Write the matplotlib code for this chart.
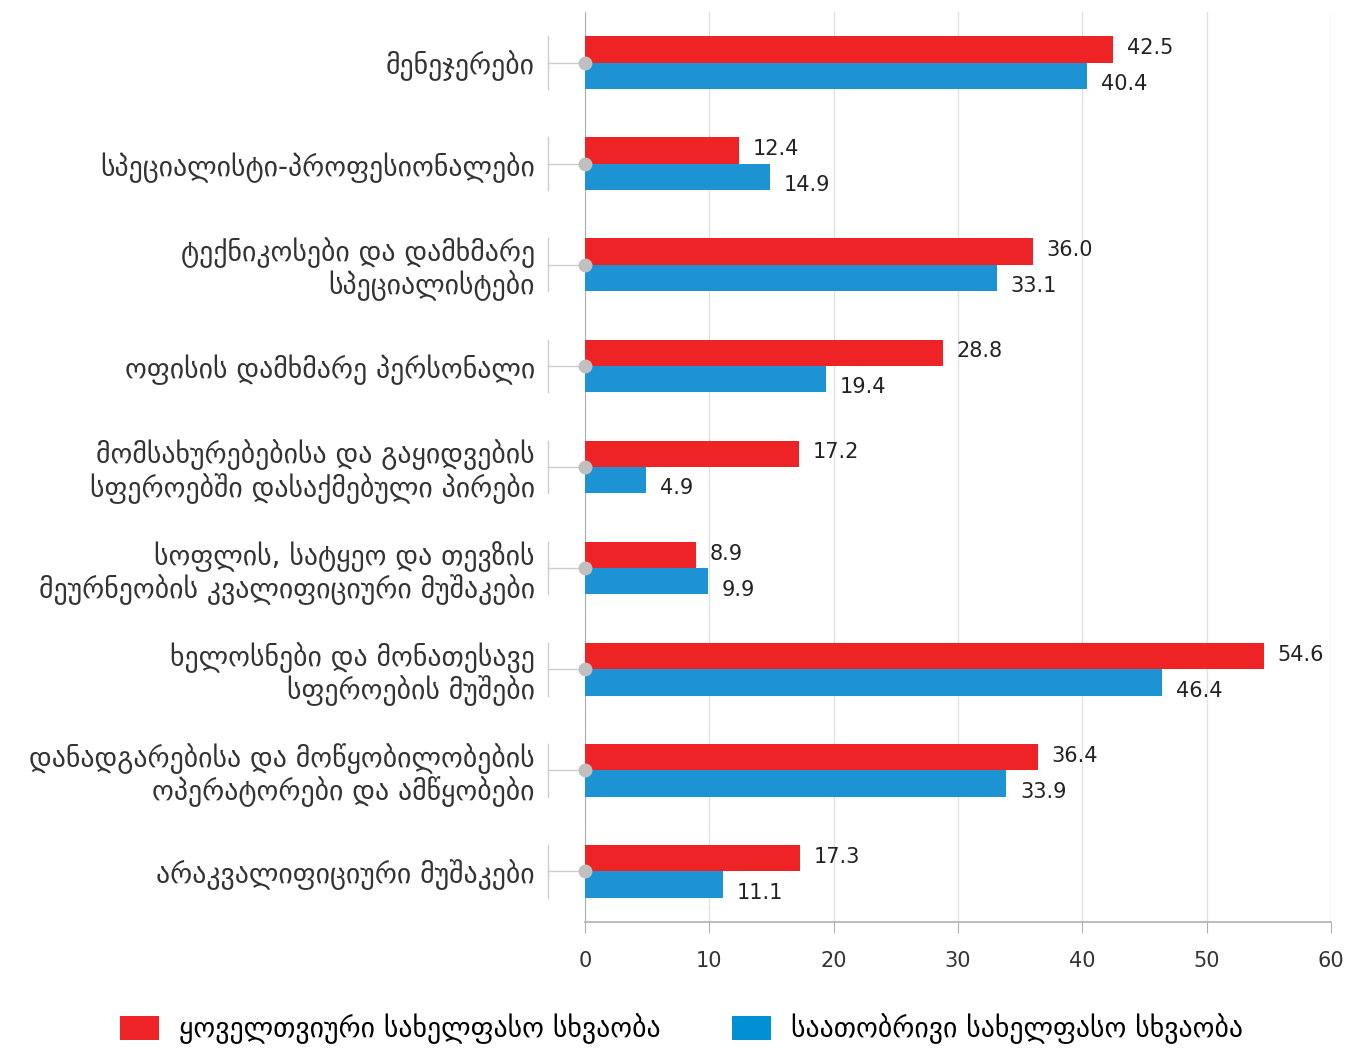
import numpy as np
import matplotlib
matplotlib.use("Agg")
import matplotlib.pyplot as plt
from matplotlib.patches import Patch

plt.rcParams['font.family'] = ['DejaVu Sans']

categories = [
    "მენეჯერები",
    "სპეციალისტი-პროფესიონალები",
    "ტექნიკოსები და დამხმარე\nსპეციალისტები",
    "ოფისის დამხმარე პერსონალი",
    "მომსახურებებისა და გაყიდვების\nსფეროებში დასაქმებული პირები",
    "სოფლის, სატყეო და თევზის\nმეურნეობის კვალიფიციური მუშაკები",
    "ხელოსნები და მონათესავე\nსფეროების მუშები",
    "დანადგარებისა და მოწყობილობების\nოპერატორები და ამწყობები",
    "არაკვალიფიციური მუშაკები",
]
monthly = [42.5, 12.4, 36.0, 28.8, 17.2, 8.9, 54.6, 36.4, 17.3]
hourly = [40.4, 14.9, 33.1, 19.4, 4.9, 9.9, 46.4, 33.9, 11.1]
series_names = ["ყოველთვიური სახელფასო სხვაობა", "საათობრივი სახელფასო სხვაობა"]
xticks = [0, 10, 20, 30, 40, 50, 60]

red = "#EE2326"
blue = "#1E93D3"
gray = "#B0B0B0"

fig = plt.figure(figsize=(13.63, 10.5), dpi=100)
ax = fig.add_axes([585/1363, 1-922/1050, 746/1363, 910/1050])

y = np.arange(len(categories))
h = 0.26
ax.barh(y - h/2, monthly, height=h, color=red, zorder=3)
ax.barh(y + h/2, hourly, height=h, color=blue, zorder=3)

for yi, v in zip(y, monthly):
    ax.annotate(f"{v:.1f}", (v, yi - h/2), xytext=(10, 1), textcoords="offset points",
                va="center", ha="left", fontsize=15, color="#222222")
for yi, v in zip(y, hourly):
    ax.annotate(f"{v:.1f}", (v, yi + h/2), xytext=(10, -6), textcoords="offset points",
                va="center", ha="left", fontsize=15, color="#222222")

ax.set_xlim(0, 60)
ax.set_ylim(len(categories) - 0.5, -0.5)
ax.set_xticks(xticks)
ax.set_xticklabels([str(t) for t in xticks], fontsize=15, color="#333333")
ax.tick_params(axis="x", length=8, color=gray, pad=13)
ax.grid(axis="x", color="#E2E2E2", linewidth=1, zorder=0)

ax.set_yticks(y)
ax.set_yticklabels(categories, fontsize=20, color="#333333", linespacing=1.1)
ax.tick_params(axis="y", length=0, pad=36)

for s in ["top", "right"]:
    ax.spines[s].set_visible(False)
ax.spines["left"].set_color(gray)
ax.spines["bottom"].set_color(gray)
ax.spines["bottom"].set_linewidth(1.2)

# category brackets on the left of the axis
tr = ax.get_yaxis_transform()
xb = -37/746
for yi in y:
    ax.plot([xb, xb], [yi - 0.26, yi + 0.26], transform=tr, color="#CCCCCC", lw=1, clip_on=False)
    ax.plot([xb, 0], [yi, yi], transform=tr, color="#CCCCCC", lw=1, clip_on=False)
    ax.plot([0], [yi], transform=tr, marker="o", ms=9, color="#C0C0C0", clip_on=False, zorder=5)

handles = [Patch(facecolor=red), Patch(facecolor="#0091D5")]
fig.legend(handles, series_names, loc="center", bbox_to_anchor=(0.5, 0.02), ncol=2,
           frameon=False, fontsize=20, handlelength=1.4, handleheight=1.0,
           columnspacing=2.6, handletextpad=0.7)

fig.savefig("out.png", dpi=100)
